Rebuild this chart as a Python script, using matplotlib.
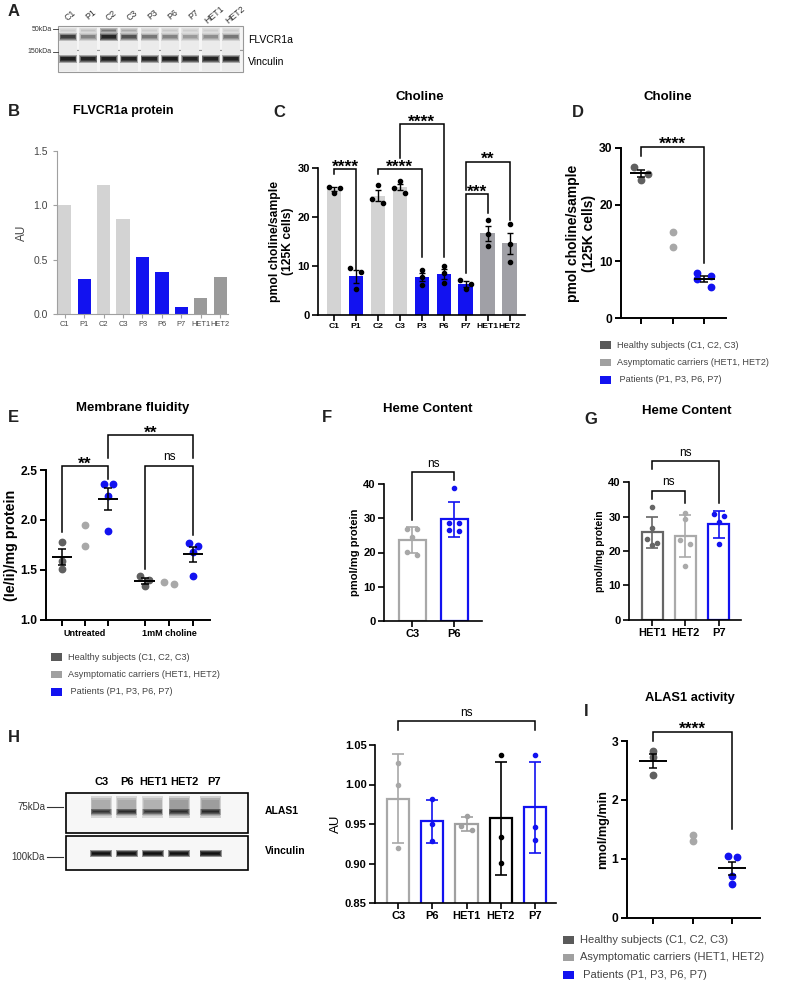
import numpy as np
import matplotlib.pyplot as plt
from matplotlib.patches import Rectangle

plt.rcParams["font.family"] = ["Liberation Sans", "DejaVu Sans"]

BLUE = "#1212f0"
LIGHT = "#d3d3d3"
HETG = "#a0a0a6"
DARKPT = "#606060"
LIGHTPT = "#a8a8a8"

# ---------------- data ----------------
a_lanes = ["C1", "P1", "C2", "C3", "P3", "P6", "P7", "HET1", "HET2"]
a_flvcr = [0.75, 0.35, 1.0, 0.6, 0.4, 0.35, 0.25, 0.3, 0.4]
a_flvcr_upper = [0.1, 0.15, 0.5, 0.25, 0.1, 0.12, 0.1, 0.1, 0.1]
a_vinc = [0.95, 0.9, 0.95, 0.9, 0.9, 0.95, 0.9, 0.9, 0.9]

groups = ["C", "P", "C", "C", "P", "P", "P", "H", "H"]

b_values = [1.0, 0.32, 1.19, 0.87, 0.52, 0.39, 0.06, 0.15, 0.34]

c_points = [[26.2, 24.9, 25.9], [9.5, 8.7, 5.4], [26.6, 23.6, 22.8],
            [27.4, 26.0, 25.0], [9.2, 7.8, 6.2], [10.0, 8.6, 6.6],
            [7.2, 6.4, 5.4], [19.4, 16.6, 14.1], [18.5, 14.5, 10.9]]

d_points = [[26.6, 25.4, 24.4], [15.2, 12.6], [8.0, 7.5, 6.9, 5.5]]

e_points = [[1.78, 1.59, 1.51], [1.95, 1.74], [2.36, 2.36, 2.24, 1.89],
            [1.44, 1.34, 1.40], [1.36, 1.38], [1.74, 1.77, 1.68, 1.44]]
e_groups = ["Untreated", "1mM choline"]

f_labels = ["C3", "P6"]
f_points = [[27.0, 27.0, 24.6, 20.2, 19.2], [38.7, 28.5, 28.5, 26.3, 26.7]]

g_labels = ["HET1", "HET2", "P7"]
g_points = [[32.8, 26.8, 23.4, 22.4, 21.8], [31.2, 29.3, 23.2, 22.1, 15.7],
            [30.2, 30.7, 28.3, 22.1]]

h_lanes = ["C3", "P6", "HET1", "HET2", "P7"]
h_alas_smear = [0.45, 0.45, 0.4, 0.55, 0.55]
h_alas_band = [0.7, 0.8, 0.7, 0.75, 0.8]
h_vinc = [0.95, 0.95, 0.95, 0.95, 0.95]
h_points = [[1.0275, 1.0, 0.919], [0.982, 0.9495, 0.928], [0.96, 0.942, 0.948],
            [1.037, 0.933, 0.901], [1.037, 0.946, 0.930]]

i_points = [[2.83, 2.73, 2.42], [1.41, 1.31], [1.04, 1.03, 0.70, 0.58]]

legend_labels = ["Healthy subjects (C1, C2, C3)",
                 "Asymptomatic carriers (HET1, HET2)",
                 " Patients (P1, P3, P6, P7)"]
legend_colors = ["#5a5a5a", "#a0a0a0", BLUE]

# ---------------- figure ----------------
W, H = 800, 982
fig = plt.figure(figsize=(W / 100, H / 100), dpi=100)
ov = fig.add_axes([0, 0, 1, 1])
ov.set_xlim(0, W)
ov.set_ylim(H, 0)
ov.axis("off")


def px_axes(x0, x1, y0, y1):
    ax = fig.add_axes([x0 / W, 1 - y1 / H, (x1 - x0) / W, (y1 - y0) / H])
    ax.patch.set_alpha(0)
    return ax


def prism(ax, xlim, ylim, yticks, lw=1.2, fs=8):
    ax.set_xlim(*xlim)
    ax.set_ylim(*ylim)
    ax.spines[["top", "right"]].set_visible(False)
    ax.spines[["left", "bottom"]].set_linewidth(lw)
    ax.set_yticks(yticks)
    ax.tick_params(width=lw, length=4, labelsize=fs, pad=2)
    for t in ax.get_yticklabels():
        t.set_fontweight("bold")


def spread(vals, tol, h):
    # pair up neighbouring points that would overlap (prism-like scatter)
    vals = np.asarray(vals, dtype=float)
    order = np.argsort(vals)[::-1]
    offs = np.zeros(len(vals))
    k = 0
    while k < len(order):
        i = order[k]
        if k + 1 < len(order) and vals[i] - vals[order[k + 1]] < tol:
            offs[i] = -h
            offs[order[k + 1]] = h
            k += 2
        else:
            k += 1
    return offs


def bracket(ax, xa, xb, top, ya, yb, label, fs=12.5, dy=-4, lw=1.1, bold=True):
    ax.plot([xa, xa, xb, xb], [ya, top, top, yb], color="k", lw=lw,
            clip_on=False, solid_joinstyle="miter")
    ax.annotate(label, ((xa + xb) / 2, top), xytext=(0, dy),
                textcoords="offset points", ha="center", va="bottom",
                fontsize=fs, fontweight="bold" if bold else "normal",
                annotation_clip=False)


def ns(ax, xa, xb, top, ya, yb):
    bracket(ax, xa, xb, top, ya, yb, "ns", fs=8.5, dy=2, bold=False)


def letter(x, y, s):
    ov.text(x, y, s, fontsize=12, fontweight="bold", va="center", ha="left", color="#222")


def title(x, y, s, fs=9.3):
    ov.text(x, y, s, fontsize=fs, fontweight="bold", va="center", ha="center")


def legend_block(x, y, labels, colors, fs=6.6, step=17.5, sq=11):
    for k, (lab, col) in enumerate(zip(labels, colors)):
        yy = y + k * step
        ov.add_patch(Rectangle((x, yy - sq * 0.35), sq, sq * 0.7, color=col, lw=0))
        ov.text(x + sq + 6, yy, lab, fontsize=fs, va="center", color="#444")


def blot_row(lane_x, inten, yc, w, h, gain=1.0,
             layers=((1.0, 1.0, 0.22), (0.92, 0.75, 0.3), (0.85, 0.5, 0.35), (0.78, 0.28, 0.4))):
    for fw, fh, a in layers:
        ov.bar(lane_x, h * fh, width=w * fw, bottom=yc - h * fh / 2,
               color=[(0.05, 0.05, 0.05, min(1, gain * a * i)) for i in inten], linewidth=0)


# ---------------- A: blot ----------------
letter(8, 11, "A")
a_x = np.linspace(68, 231, len(a_lanes))
ov.add_patch(Rectangle((58, 26), 185, 23.5, facecolor="#f5f5f5", edgecolor="#999", lw=0.8))
ov.add_patch(Rectangle((58, 50), 185, 22, facecolor="#f5f5f5", edgecolor="#999", lw=0.8))
ov.bar(a_x, 44, width=18, bottom=27, color="#ebebeb", linewidth=0)
blot_row(a_x, a_flvcr_upper, 30.5, 18, 6)
blot_row(a_x, a_flvcr, 36.5, 18, 8, gain=1.3)
blot_row(a_x, a_vinc, 58.5, 18, 8, gain=1.5)
for xl, lab in zip(np.linspace(70, 235, len(a_lanes)), a_lanes):
    ov.text(xl, 15, lab, rotation=40, fontsize=6.3, ha="center", va="center", color="#333")
ov.text(52, 29, "50kDa", fontsize=5, ha="right", va="center", color="#333")
ov.plot([53, 58], [29, 29], color="#333", lw=0.6)
ov.text(52, 51.5, "150kDa", fontsize=5, ha="right", va="center", color="#333")
ov.plot([53, 58], [51.5, 51.5], color="#333", lw=0.6)
ov.text(248, 40, "FLVCR1a", fontsize=7.5, va="center")
ov.text(248, 62, "Vinculin", fontsize=7.5, va="center")

# ---------------- B ----------------
letter(8, 111, "B")
title(123, 111, "FLVCR1a protein", fs=9)
axb = px_axes(57, 228, 151, 314)
bcol = {"C": LIGHT, "P": BLUE, "H": "#9a9a9a"}
xb = np.arange(len(a_lanes))
axb.bar(xb, b_values, width=0.68, color=[bcol[g] for g in groups])
axb.set_xlim(-0.4, 8.4)
axb.set_ylim(0, 1.5)
axb.set_yticks([0, 0.5, 1.0, 1.5])
axb.set_xticks(xb, a_lanes)
axb.spines[["top", "right"]].set_visible(False)
axb.spines[["left", "bottom"]].set_color("#a0a0a0")
axb.tick_params(colors="#a0a0a0", labelcolor="#444", labelsize=7.5, length=3)
axb.tick_params(axis="x", labelsize=5.4, pad=2)
axb.set_ylabel("AU", fontsize=8.5, color="#444")

# ---------------- C ----------------
letter(273, 112, "C")
title(420, 97, "Choline", fs=9.5)
axc = px_axes(318, 525, 168, 315)
xc = np.arange(len(a_lanes))
ccol = {"C": LIGHT, "P": BLUE, "H": HETG}
cm = [np.mean(p) for p in c_points]
cs = [np.std(p, ddof=1) / np.sqrt(len(p)) for p in c_points]
axc.bar(xc, cm, width=0.66, color=[ccol[g] for g in groups], zorder=1)
axc.errorbar(xc, cm, yerr=cs, fmt="none", ecolor="k", elinewidth=1, capsize=2.5, zorder=3)
for x, p in zip(xc, c_points):
    axc.plot(x + spread(p, 1.2, 0.25), p, "o", color="k", ms=3, zorder=4)
prism(axc, (-0.73, 8.7), (0, 30), [0, 10, 20, 30])
axc.set_xticks(xc, a_lanes, fontweight="bold", fontsize=6.1)
axc.set_ylabel("pmol choline/sample\n(125K cells)", fontweight="bold", fontsize=8.7, labelpad=2)
bracket(axc, 0, 1, 29.7, 28.8, 9.2, "****")
bracket(axc, 2, 4, 29.7, 28.8, 11.9, "****")
bracket(axc, 3, 5, 38.9, 32.0, 11.9, "****")
bracket(axc, 6, 7, 24.6, 8.5, 20.8, "***")
bracket(axc, 6, 8, 31.3, 25.5, 19.4, "**")


def scatter_panel(ax, pts, xpos, cols, tol, h, hw, ms=4.6):
    for x, p, c in zip(xpos, pts, cols):
        ax.plot(x + spread(p, tol, h), p, "o", color=c, ms=ms, zorder=2, clip_on=False)
        if len(p) > 2:
            m = np.mean(p)
            s = np.std(p, ddof=1) / np.sqrt(len(p))
            ax.hlines(m, x - hw, x + hw, color="k", lw=1.4, zorder=3)
            ax.errorbar(x, m, yerr=s, fmt="none", ecolor="k", elinewidth=1.1,
                        capsize=3, capthick=1.1, zorder=3)


# ---------------- D ----------------
letter(572, 112, "D")
title(668, 97, "Choline", fs=9.5)
axd = px_axes(621, 726, 147.7, 318.3)
xd = np.arange(3)
scatter_panel(axd, d_points, xd, [DARKPT, LIGHTPT, BLUE], 1.5, 0.22, 0.33)
prism(axd, (-0.63, 2.69), (0, 30), [0, 10, 20, 30], lw=1.4, fs=8.7)
axd.set_xticks(xd, ["", "", ""])
axd.set_ylabel("pmol choline/sample\n(125K cells)", fontweight="bold", fontsize=10, labelpad=2)
bracket(axd, 0, 2, 30.2, 28.5, 9.8, "****")
legend_block(600, 345, legend_labels, legend_colors)

# ---------------- E ----------------
letter(8, 417, "E")
title(133, 408, "Membrane fluidity", fs=9.5)
axe = px_axes(45.7, 210, 470, 620)
xe = [0, 1, 2, 3.55, 4.6, 5.65]
scatter_panel(axe, e_points, xe, [DARKPT, LIGHTPT, BLUE] * 2, 0.05, 0.2, 0.43)
prism(axe, (-0.69, 6.36), (1.0, 2.5), [1.0, 1.5, 2.0, 2.5], lw=1.4, fs=8.7)
axe.set_xticks(xe, [""] * 6)
for xg, lab in zip([1, 4.6], e_groups):
    axe.annotate(lab, (xg, 0), xycoords=("data", "axes fraction"), xytext=(0, -10),
                 textcoords="offset points", ha="center", va="center",
                 fontsize=6.5, fontweight="bold")
axe.set_ylabel("(Ie/Ii)/mg protein", fontweight="bold", fontsize=10.3, labelpad=2)
bracket(axe, 0, 2, 2.54, 1.88, 2.41, "**")
ns(axe, 3.55, 5.65, 2.54, 1.51, 1.85)
bracket(axe, 2, 5.65, 2.85, 2.62, 2.62, "**")
legend_block(51, 657, legend_labels, legend_colors)


def open_bars(ax, pts, cols, width, tol, h, ms=3):
    x = np.arange(len(pts))
    m = [np.mean(p) for p in pts]
    s = [np.std(p, ddof=1) for p in pts]
    ax.bar(x, m, width=width, facecolor="white", edgecolor=cols, linewidth=1.6, zorder=1)
    for xi, mi, si, c, p in zip(x, m, s, cols, pts):
        ax.errorbar(xi, mi, yerr=si, fmt="none", ecolor=c, elinewidth=1.2,
                    capsize=4, capthick=1.2, zorder=3)
        ax.plot(xi + spread(p, tol, h), p, "o", color=c, ms=ms, zorder=4, clip_on=False)
    return x


# ---------------- F ----------------
letter(322, 418, "F")
title(428, 409, "Heme Content", fs=9.5)
axf = px_axes(384, 482, 484, 621)
xf = open_bars(axf, f_points, ["#a8a8a8", BLUE], 0.64, 1.5, 0.12)
prism(axf, (-0.67, 1.66), (0, 40), [0, 10, 20, 30, 40])
axf.set_xticks(xf, f_labels, fontweight="bold")
axf.set_ylabel("pmol/mg protein", fontweight="bold", fontsize=8, labelpad=2)
ns(axf, 0, 1, 43.4, 29.6, 41.3)

# ---------------- G ----------------
letter(584, 419, "G")
title(687, 411, "Heme Content", fs=9.5)
axg = px_axes(629, 741, 482.3, 619.7)
xg = open_bars(axg, g_points, ["#666666", "#aaaaaa", BLUE], 0.63, 1.5, 0.15)
prism(axg, (-0.69, 2.67), (0, 40), [0, 10, 20, 30, 40])
axg.set_xticks(xg, g_labels, fontweight="bold")
axg.set_ylabel("pmol/mg protein", fontweight="bold", fontsize=7.5, labelpad=2)
ns(axg, 0, 1, 37.6, 35.2, 33.9)
ns(axg, 0, 2, 46.1, 43.8, 34.1)

# ---------------- H: blot ----------------
letter(8, 737, "H")
h_x = np.array([101, 126.7, 152.7, 179, 210.5])
for xl, lab in zip([101.7, 126.7, 153.5, 184.5, 214], h_lanes):
    ov.text(xl, 782, lab, fontsize=8, fontweight="bold", ha="center", va="center")
ov.add_patch(Rectangle((66, 793), 182, 40, facecolor="#f7f7f7", edgecolor="k", lw=1.2))
ov.add_patch(Rectangle((66, 836), 182, 34, facecolor="#f7f7f7", edgecolor="k", lw=1.2))
blot_row(h_x, h_alas_smear, 807, 21, 22, layers=((1.0, 1.0, 0.3), (0.92, 0.85, 0.3), (0.85, 0.6, 0.2)))
blot_row(h_x, h_alas_band, 811.5, 21, 6, gain=1.3)
blot_row(h_x, h_vinc, 853.5, 22, 7, gain=2.0)
ov.text(45, 807, "75kDa", fontsize=7, ha="right", va="center", color="#333")
ov.plot([47, 63], [807, 807], color="#333", lw=0.8)
ov.text(45, 857, "100kDa", fontsize=7, ha="right", va="center", color="#333")
ov.plot([47, 63], [857, 857], color="#333", lw=0.8)
ov.text(265, 811, "ALAS1", fontsize=7.5, fontweight="bold", va="center")
ov.text(265, 851, "Vinculin", fontsize=7.5, fontweight="bold", va="center")

# ---------------- H: bars ----------------
axh = px_axes(375, 556, 745, 903)
xh = open_bars(axh, h_points, ["#a8a8a8", BLUE, "#a0a0a0", "k", BLUE], 0.65, 0.008, 0.16)
prism(axh, (-0.68, 4.62), (0.85, 1.05), [0.85, 0.90, 0.95, 1.00, 1.05])
axh.set_yticks([0.85, 0.90, 0.95, 1.00, 1.05], ["0.85", "0.90", "0.95", "1.00", "1.05"], fontweight="bold")
axh.set_xticks(xh, h_lanes, fontweight="bold")
axh.set_ylabel("AU", fontsize=9.5, labelpad=2)
ns(axh, 0, 4, 1.08, 1.069, 1.069)

# ---------------- I ----------------
letter(584, 712, "I")
title(690, 698, "ALAS1 activity", fs=9.3)
axi = px_axes(626.7, 760, 741, 917.7)
xi = np.arange(3)
scatter_panel(axi, i_points, xi, [DARKPT, LIGHTPT, BLUE], 0.09, 0.11, 0.35)
prism(axi, (-0.67, 2.70), (0, 3), [0, 1, 2, 3], lw=1.4, fs=8.7)
axi.set_xticks(xi, ["", "", ""])
axi.set_ylabel("nmol/mg/min", fontweight="bold", fontsize=9.2, labelpad=2)
bracket(axi, 0, 2, 3.16, 3.0, 1.5, "****")
legend_block(563, 940, legend_labels, legend_colors, fs=8)

fig.savefig("out.png", dpi=100)
